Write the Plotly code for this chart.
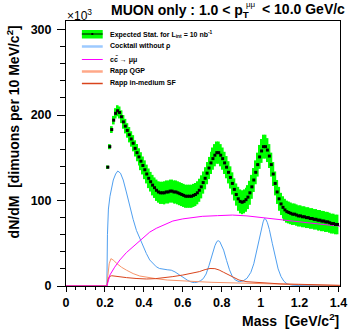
import plotly.graph_objects as go

# dimuon mass bins (10 MeV), expected total spectrum and its error (x10^3)
mass_bins = [round(0.215 + 0.01 * i, 3) for i in range(119)]
total = [139, 163, 183, 194, 202, 205, 203, 198, 192, 187,
         182, 177, 172, 167, 161, 156, 151, 146, 141, 136,
         131, 126, 122, 118, 115, 112, 110, 109, 109, 109,
         110, 110, 111, 111, 110, 110, 109, 108, 107, 106,
         105, 105, 105, 105, 106, 107, 109, 112, 116, 121,
         126, 132, 138, 144, 149, 153, 156, 156, 153, 149,
         144, 139, 133, 127, 120, 113, 107, 102, 99, 98,
         99, 101, 104, 109, 116, 124, 133, 142, 151, 158,
         163, 163, 159, 152, 142, 131, 120, 110, 102, 96,
         92, 89, 87, 86, 85, 84, 84, 83, 82, 82,
         81, 81, 80, 80, 79, 79, 78, 78, 77, 77,
         76, 76, 75, 75, 74, 73, 73, 72, 72]
total_err = [2, 3, 4, 5, 6, 6.5, 7, 7.5, 8, 8.5,
             8.5, 9, 9, 9.5, 9.5, 10, 10, 10.5, 10.5, 11,
             11, 11.5, 11.5, 12, 12, 12.5, 12.5, 13, 13,
             13.5, 13.5, 13.5, 13.5, 13.5, 13.5, 13.5, 13.5, 13.5, 13.5,
             13.5, 13.5, 13.5, 13.5, 13.5, 13.5, 13.5, 13.5, 13.5, 13.5,
             13, 13, 13, 13, 13, 13, 13, 13, 13, 13, 13, 13, 13, 13, 13, 13, 13, 13,
             14, 14, 14, 14, 14, 14, 14, 14, 14, 14, 14,
             14, 14, 14, 14, 14, 14, 14, 14, 14, 14, 14,
             13, 13, 13, 12.9, 12.8, 12.7, 12.6, 12.5, 12.5, 12.4,
             12.4, 12.3, 12.3, 12.2, 12.2, 12.1, 12.1, 12, 12, 12,
             11.9, 11.9, 11.8, 11.8, 11.7, 11.7, 11.6, 11.6, 11.5, 11.5]

# cocktail without rho
cocktail_m = [0, 0.21, 0.213, 0.218, 0.226, 0.235, 0.243, 0.255, 0.266, 0.28, 0.294, 0.31, 0.328,
              0.345, 0.362, 0.38, 0.396, 0.413, 0.43, 0.447, 0.464, 0.48, 0.5, 0.52, 0.541,
              0.56, 0.583, 0.605, 0.626, 0.645, 0.66, 0.675, 0.69, 0.705, 0.72, 0.735, 0.75,
              0.765, 0.775, 0.782, 0.79, 0.8, 0.81, 0.825, 0.84, 0.855, 0.87, 0.89, 0.91, 0.93,
              0.95, 0.965, 0.98, 0.995, 1.005, 1.013, 1.02, 1.027, 1.035, 1.045, 1.06, 1.075,
              1.09, 1.105, 1.12, 1.136, 1.16, 1.2, 1.3, 1.4]
cocktail_v = [0, 0, 60, 90, 105, 116, 124, 131, 134.5, 132, 124, 110, 93,
              78, 65, 55, 46, 38, 30.5, 26, 22.5, 20.5, 19.5, 19, 18.5,
              16.5, 13, 9.5, 6.5, 4.5, 4, 4.5, 6, 8.5, 14, 24, 36,
              47, 52, 53, 52, 47, 42, 30, 19, 11, 7, 5, 6, 9,
              16, 26, 41, 58, 68, 75, 79, 78, 74, 66, 50, 34,
              20, 11, 5.5, 2.5, 1, 0.5, 0.3, 0.2]

# c cbar -> mu mu
charm_m = [0, 0.21, 0.215, 0.226, 0.25, 0.277, 0.31, 0.345, 0.37, 0.4, 0.43, 0.464, 0.5,
           0.549, 0.6, 0.651, 0.7, 0.779, 0.855, 0.93, 1.026, 1.1, 1.195, 1.3, 1.408]
charm_v = [0, 0, 4, 13, 22, 30.5, 39, 46, 52, 58, 63, 67.5, 71.5,
           76, 78.5, 80, 81.5, 82.3, 83, 82, 79.5, 77, 75, 72.5, 70]

# Rapp QGP
qgp_m = [0, 0.21, 0.215, 0.222, 0.231, 0.245, 0.26, 0.285, 0.311, 0.345, 0.379, 0.42,
         0.464, 0.52, 0.566, 0.62, 0.685, 0.75, 0.82, 0.9, 1.0, 1.1, 1.2, 1.3, 1.4]
qgp_v = [0, 0, 12, 26, 32, 30, 26.5, 22, 18.5, 14.5, 11.7, 10,
         8.5, 7, 6.2, 5.5, 5, 4.3, 3.8, 3.2, 2.6, 2, 1.5, 1, 0.6]

# Rapp in-medium spectral function
sf_m = [0, 0.21, 0.215, 0.222, 0.235, 0.26, 0.311, 0.36, 0.413, 0.46, 0.5, 0.549, 0.6,
        0.651, 0.685, 0.715, 0.74, 0.765, 0.787, 0.81, 0.838, 0.865, 0.889, 0.93, 0.991,
        1.05, 1.1, 1.195, 1.3, 1.408]
sf_v = [0, 0, 6, 11, 12, 11, 9.8, 8.8, 8.2, 8.6, 9.5, 11, 12.8,
        14.8, 16.8, 19.2, 20.5, 20.3, 18.7, 16, 12.9, 9.5, 7, 5, 3.9,
        3, 2.5, 2, 1.3, 0.8]

W, H = 359, 333
L, R, T, B = 66, 17, 21, 47


def px(x):
    return (x - L) / (W - L - R)


def py(y):
    return (H - B - y) / (H - T - B)


FONT = "Liberation Sans, Arial, Helvetica, sans-serif"

fig = go.Figure()
fig.add_trace(go.Bar(x=mass_bins, y=[2 * e for e in total_err],
                     base=[v - e for v, e in zip(total, total_err)],
                     width=0.01, marker=dict(color="#00ff00", line_width=0)))
fig.add_trace(go.Scatter(x=cocktail_m, y=cocktail_v, mode="lines",
                         line=dict(color="#4f9ff0", width=1)))
fig.add_trace(go.Scatter(x=qgp_m, y=qgp_v, mode="lines",
                         line=dict(color="#f7956b", width=1)))
fig.add_trace(go.Scatter(x=sf_m, y=sf_v, mode="lines",
                         line=dict(color="#d9441c", width=1)))
fig.add_trace(go.Scatter(x=charm_m, y=charm_v, mode="lines",
                         line=dict(color="#ff00ff", width=1)))
fig.add_trace(go.Scatter(x=mass_bins, y=total, mode="markers",
                         marker=dict(color="black", size=3, symbol="square", line_width=0)))

# legend drawn by hand, ROOT style
shapes = [
    dict(type="rect", xref="paper", yref="paper", x0=px(82), x1=px(103), y0=py(38.5), y1=py(30),
         fillcolor="#00ff00", line_width=0),
    dict(type="line", xref="paper", yref="paper", x0=px(82), x1=px(103), y0=py(34), y1=py(34),
         line=dict(color="black", width=1)),
    dict(type="rect", xref="paper", yref="paper", x0=px(91.5), x1=px(93.5), y0=py(35), y1=py(33),
         fillcolor="black", line_width=0),
    dict(type="line", xref="paper", yref="paper", x0=px(82), x1=px(103), y0=py(46.5), y1=py(46.5),
         line=dict(color="#9ccaff", width=2.5)),
    dict(type="line", xref="paper", yref="paper", x0=px(82), x1=px(103), y0=py(59.5), y1=py(59.5),
         line=dict(color="#ff00ff", width=1)),
    dict(type="line", xref="paper", yref="paper", x0=px(82), x1=px(103), y0=py(71.5), y1=py(71.5),
         line=dict(color="#ffa888", width=2.5)),
    dict(type="line", xref="paper", yref="paper", x0=px(82), x1=px(103), y0=py(83.5), y1=py(83.5),
         line=dict(color="#d9441c", width=1.5)),
]
legend_labels = ["Expected Stat. for L<sub>int</sub> = 10 nb<sup>-1</sup>",
                 "Cocktail without ρ",
                 "cc\u0304 → μμ",
                 "Rapp QGP",
                 "Rapp in-medium SF"]
legend_rows = [34, 46.5, 59.5, 71.5, 83.5]

ann = []
for lab, yy in zip(legend_labels, legend_rows):
    ann.append(dict(text=lab, xref="paper", yref="paper", x=px(108), y=py(yy),
                    xanchor="left", yanchor="middle", showarrow=False,
                    font=dict(family=FONT, size=7, color="black", weight="bold")))

ann += [
    dict(text="MUON only : 1.0 < p<sub>T</sub>", xref="paper", yref="paper",
         x=px(252), y=py(11), xanchor="right", yanchor="middle", showarrow=False,
         font=dict(family=FONT, size=14, color="black", weight="bold")),
    dict(text="μμ", xref="paper", yref="paper", x=px(245.5), y=py(4.5), xanchor="left",
         yanchor="middle", showarrow=False, font=dict(family=FONT, size=8, color="black")),
    dict(text="< 10.0 GeV/c", xref="paper", yref="paper", x=px(261), y=py(9.5),
         xanchor="left", yanchor="middle", showarrow=False,
         font=dict(family=FONT, size=14, color="black", weight="bold")),
    dict(text="×10<sup>3</sup>", xref="paper", yref="paper", x=px(64.5), y=py(15),
         xanchor="left", yanchor="middle", showarrow=False,
         font=dict(family=FONT, size=12, color="black")),
    dict(text="dN/dM  [dimuons per 10 MeV/c<sup>2</sup>]", xref="paper", yref="paper",
         x=px(13), y=py(132), xanchor="center", yanchor="middle", textangle=-90,
         showarrow=False, font=dict(family=FONT, size=14, color="black", weight="bold")),
    dict(text="Mass  [GeV/c<sup>2</sup>]", xref="paper", yref="paper",
         x=px(343), y=py(320), xanchor="right", yanchor="middle", showarrow=False,
         font=dict(family=FONT, size=14, color="black", weight="bold")),
]

axis_common = dict(showline=True, linecolor="black", linewidth=1, mirror=True,
                   ticks="outside", tickcolor="black", tickwidth=1,
                   showgrid=False, zeroline=False, layer="below traces",
                   tickfont=dict(family=FONT, size=12.5, color="black", weight="bold"))

fig.update_layout(
    width=W, height=H,
    margin=dict(l=L, r=R, t=T, b=B),
    paper_bgcolor="white", plot_bgcolor="white",
    showlegend=False, barmode="overlay",
    shapes=shapes, annotations=ann,
    xaxis=dict(range=[0, 1.408], tick0=0, dtick=0.2, ticklen=5,
               minor=dict(dtick=0.05, ticklen=3, ticks="outside", tickcolor="black"),
               **axis_common),
    yaxis=dict(range=[0, 310], tick0=0, dtick=100, ticklen=8, ticklabelstandoff=3,
               minor=dict(dtick=20, ticklen=5, ticks="outside", tickcolor="black"),
               **axis_common),
)

# page has a default body margin; drop it so the chart sits at the window corner
fig.write_html("out.html", config={"displayModeBar": False},
               post_script="document.body.style.margin='0';")
